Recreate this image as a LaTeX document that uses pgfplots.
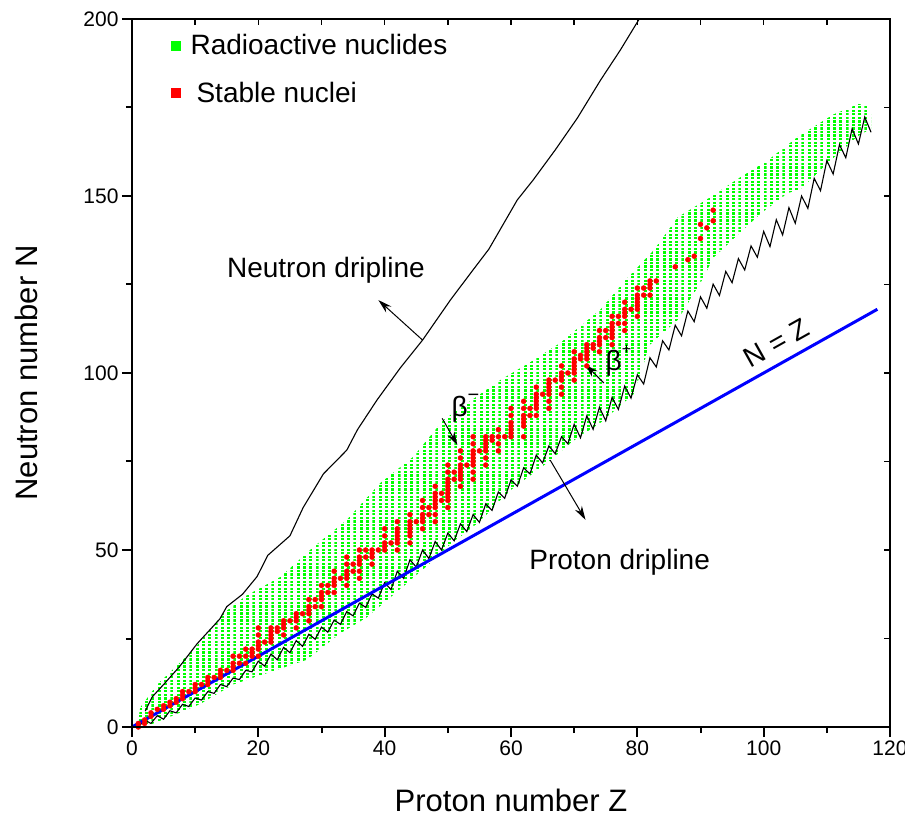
\documentclass[border=0pt]{standalone}
\usepackage{fontspec}
\setmainfont{Liberation Sans}
\usepackage{pgfplots}
\pgfplotsset{compat=1.18}
\usetikzlibrary{patterns,arrows.meta}

% one dot per (Z,N) cell
\pgfdeclarepatternformonly{nuclides}{\pgfpointorigin}{\pgfqpoint{3.2bp}{2.4bp}}{\pgfqpoint{6.31bp}{3.54bp}}{%
  \pgfpathrectangle{\pgfqpoint{0bp}{0bp}}{\pgfqpoint{3bp}{2.2bp}}\pgfusepath{fill}}

\newcommand{\bigf}{\fontsize{28bp}{32bp}\selectfont}

\begin{document}
\begin{tikzpicture}
\begin{axis}[
  scale only axis, width=758bp, height=708bp,
  xmin=0, xmax=120, ymin=0, ymax=200,
  xtick={0,20,...,120}, ytick={0,50,...,200},
  minor x tick num=1, minor y tick num=1,
  tick pos=left, tick align=outside,
  major tick length=10bp, minor tick length=6bp,
  axis line style={line width=2.5bp},
  every tick/.style={line width=2bp, black},
  tick label style={font=\fontsize{21bp}{25bp}\selectfont},
  /pgf/number format/assume math mode=true,
  xlabel={Proton number Z}, ylabel={Neutron number N},
  label style={font=\fontsize{31bp}{36bp}\selectfont},
  xlabel style={at={(axis description cs:0.5,-0.103)}, anchor=center},
  ylabel style={at={(axis description cs:-0.139,0.5)}, anchor=center},
  legend style={draw=none, fill=none, at={(0.048,0.984)}, anchor=north west,
    font=\bigf, row sep=22bp},
  legend cell align=left,
]
\coordinate (o) at (rel axis cs:0,0);
\addlegendimage{only marks, mark=square*, mark size=4.5bp, green}
\addlegendentry{\hspace{8bp}Radioactive nuclides}
\addlegendimage{only marks, mark=square*, mark size=4.5bp, red}
\addlegendentry{\hspace{14bp}Stable nuclei}

% radioactive nuclides: band envelope
\addplot[forget plot, draw=none, pattern=nuclides, pattern color=green] coordinates {
 (1,2) (1.3,5.5) (4,12) (7.5,18) (10.3,23) (14.4,32) (18,37) (23.5,42.4)
 (28.7,50.8) (34,58.5) (39.3,68.9) (44.5,76.3) (49.3,86.7) (53.5,92) (58.3,98)
 (63,103) (67.8,108.5) (74.2,118) (78,126) (82.6,134.7) (86.4,144) (91.6,149.7)
 (96.4,155.4) (100.6,160) (105.4,166.7) (111,173) (115,176) (116.5,175.5) (117,173)
 (117,169) (115,167) (111,160.7) (105.9,152) (103.8,150.8) (99.5,145) (92,132.5)
 (90.5,127) (86.4,115) (82,108) (79.4,94) (74.2,86) (70,81) (66,75) (60,67)
 (55,58) (50,51) (46.7,45.5) (43.6,40.7) (37.2,31) (33,26.5) (27.7,19) (21,15)
 (16,12) (10.8,6.5) (5.5,2.5) (2,0) (1,0)
} -- cycle;

% neutron dripline
\addplot[forget plot, black, line width=1.1bp] coordinates {
 (2.1,4.5) (3.2,8.5) (5,12) (7.5,17) (10.3,23.5) (13.9,30.5) (15,34) (17.5,37.5)
 (19.8,42.5) (21.5,48.5) (25,54) (27.1,62) (30.3,71.5) (34,78.2) (35.7,84)
 (38.8,92.4) (42.5,101.5) (46,109.3) (50.4,120.6) (53.6,128.2) (56.5,135)
 (61,148.9) (63.5,154.5) (67,163) (70.5,172) (74.2,182.8) (77.3,191.2) (80.3,200)
};

% proton dripline
\addplot[forget plot, black, line width=1.1bp] coordinates {
 (0,0) (1,0) (2,2) (3,1) (4,3.2) (5,2.2) (6,4.6) (7,4) (8,6.4) (9,5.8) (10,8.2)
 (11,7.6) (12,10) (13,9.5) (14,12) (15,11.4) (16,13.8) (17,13.4) (18,16) (19,15.6)
 (20,18.6) (21,17.2) (22,20.6) (23,19) (24,22.5) (25,21) (26,24.4) (27,22.8)
 (28,26.2) (29,24.8) (30,28.2) (31,26.8) (32,30.2) (33,29) (34,32.6) (35,31.4)
 (36,35) (37,33.8) (38,37.6) (39,36.4) (40,40.8) (41,38.8) (42,44) (43,42)
 (44,47.2) (45,45.2) (46,50) (47,47.6) (48,52.4) (49,50) (50,54.8) (51,52.6)
 (52,57.4) (53,55.2) (54,60) (55,57.8) (56,63) (57,61.2) (58,66.4) (59,64.6)
 (60,69.8) (61,68) (62,73.2) (63,71.5) (64,76.8) (65,74.6) (66,79.4) (67,77.2)
 (68,82) (69,80) (70,85.5) (71,81.7) (72,87.9) (73,84.1) (74,90.3) (75,86.5)
 (76,93.1) (77,89.7) (78,96.3) (79,92.9) (80,99.5) (81,96.9) (82,104.3) (83,101.7)
 (84,109.1) (85,106.5) (86,113.5) (87,110.5) (88,117.5) (89,114.5) (90,121.5)
 (91,118.3) (92,125.1) (93,121.9) (94,128.7) (95,125.5) (96,132.3) (97,129.1)
 (98,135.9) (99,132.7) (100,140) (101,135.7) (102,143.3) (103,139) (104,146.7)
 (105,142.3) (106,150) (107,146.5) (108,155) (109,151.5) (110,160) (111,156.2)
 (112,164.5) (113,160.8) (114,169) (115,164.7) (116,172.3) (117,168)
};

% N = Z
\addplot[forget plot, blue, line width=3bp] coordinates {(0,0) (118,118)};

% stable nuclei
\addplot[forget plot, only marks, mark=*, mark size=2.5bp, red, mark options={draw=red, fill=red}] coordinates {
 (1,0)(1,1)(2,1)(2,2)(3,3)(3,4)(4,5)(5,5)(5,6)(6,6)(6,7)(7,7)(7,8)(8,8)(8,9)(8,10)
 (9,10)(10,10)(10,11)(10,12)(11,12)(12,12)(12,13)(12,14)(13,14)(14,14)(14,15)(14,16)
 (15,16)(16,16)(16,17)(16,18)(16,20)(17,18)(17,20)(18,18)(18,20)(18,22)(19,20)(19,21)
 (19,22)(20,20)(20,22)(20,23)(20,24)(20,26)(20,28)(21,24)(22,24)(22,25)(22,26)(22,27)
 (22,28)(23,27)(23,28)(24,26)(24,28)(24,29)(24,30)(25,30)(26,28)(26,30)(26,31)(26,32)
 (27,32)(28,30)(28,32)(28,33)(28,34)(28,36)(29,34)(29,36)(30,34)(30,36)(30,37)(30,38)
 (30,40)(31,38)(31,40)(32,38)(32,40)(32,41)(32,42)(32,44)(33,42)(34,40)(34,42)(34,43)
 (34,44)(34,46)(34,48)(35,44)(35,46)(36,42)(36,44)(36,46)(36,47)(36,48)(36,50)(37,48)
 (37,50)(38,46)(38,48)(38,49)(38,50)(39,50)(40,50)(40,51)(40,52)(40,54)(40,56)(41,52)
 (42,50)(42,52)(42,53)(42,54)(42,55)(42,56)(42,58)(44,52)(44,54)(44,55)(44,56)(44,57)
 (44,58)(44,60)(45,58)(46,56)(46,58)(46,59)(46,60)(46,62)(46,64)(47,60)(47,62)(48,58)
 (48,60)(48,62)(48,63)(48,64)(48,65)(48,66)(48,68)(49,64)(49,66)(50,62)(50,64)(50,65)
 (50,66)(50,67)(50,68)(50,69)(50,70)(50,72)(50,74)(51,70)(51,72)(52,68)(52,70)(52,71)
 (52,72)(52,73)(52,74)(52,76)(52,78)(53,74)(54,70)(54,72)(54,74)(54,75)(54,76)(54,77)
 (54,78)(54,80)(54,82)(55,78)(56,74)(56,76)(56,78)(56,79)(56,80)(56,81)(56,82)(57,81)
 (57,82)(58,78)(58,80)(58,82)(58,84)(59,82)(60,82)(60,83)(60,84)(60,85)(60,86)(60,88)
 (60,90)(62,82)(62,85)(62,86)(62,87)(62,88)(62,90)(62,92)(63,88)(63,90)(64,88)(64,90)
 (64,91)(64,92)(64,93)(64,94)(64,96)(65,94)(66,90)(66,92)(66,94)(66,95)(66,96)(66,97)
 (66,98)(67,98)(68,94)(68,96)(68,98)(68,99)(68,100)(68,102)(69,100)(70,98)(70,100)
 (70,101)(70,102)(70,103)(70,104)(70,106)(71,104)(71,105)(72,102)(72,104)(72,105)
 (72,106)(72,107)(72,108)(73,107)(73,108)(74,106)(74,108)(74,109)(74,110)(74,112)
 (75,110)(75,112)(76,108)(76,110)(76,111)(76,112)(76,113)(76,114)(76,116)(77,114)
 (77,116)(78,112)(78,114)(78,116)(78,117)(78,118)(78,120)(79,118)(80,116)(80,118)
 (80,119)(80,120)(80,121)(80,122)(80,124)(81,122)(81,124)(82,122)(82,124)(82,125)
 (82,126)(83,126)(86,130)(88,132)(89,133)(90,138)(90,142)(91,141)(92,143)(92,146)
};

% annotations
\node[font=\bigf] at (axis cs:30.7,129) {Neutron dripline};
\draw[line width=1bp, -{Stealth[length=14bp,width=8bp]}] (axis cs:46,109.3) -- (axis cs:39,120.6);
\node[font=\bigf] at (axis cs:77.2,46.6) {Proton dripline};
\draw[line width=1bp, -{Stealth[length=14bp,width=8bp]}] (axis cs:66.2,75.4) -- (axis cs:71.8,58.5);
\node[font=\bigf] at (axis cs:52.8,90) {β\raisebox{0.55em}{\fontsize{20bp}{22bp}\selectfont −}};
\draw[line width=1bp, -{Stealth[length=13bp,width=8bp]}] (axis cs:49.1,87.2) -- (axis cs:51.5,79.7);
\node[font=\bigf] at (axis cs:77,103.5) {β\raisebox{0.55em}{\fontsize{16bp}{18bp}\selectfont +}};
\draw[line width=1bp, -{Stealth[length=13bp,width=8bp]}] (axis cs:74.7,97.2) -- (axis cs:71.8,102.3);
\node[font=\bigf, rotate=29.3] at (axis cs:102,108.5) {N = Z};
\end{axis}
% inward ticks on top and right
\begin{axis}[
  scale only axis, width=758bp, height=708bp,
  xmin=0, xmax=120, ymin=0, ymax=200,
  xtick={0,20,...,120}, ytick={0,50,...,200},
  minor x tick num=1, minor y tick num=1,
  tick pos=right, tick align=inside,
  major tick length=6bp, minor tick length=6bp,
  axis line style={line width=2.5bp},
  every tick/.style={line width=1.5bp, black},
  xticklabels={}, yticklabels={},
]
\end{axis}
\pgfresetboundingbox
\path[use as bounding box] ([shift={(-132bp,-100bp)}]o) rectangle ([shift={(773bp,727bp)}]o);
\end{tikzpicture}
\end{document}
